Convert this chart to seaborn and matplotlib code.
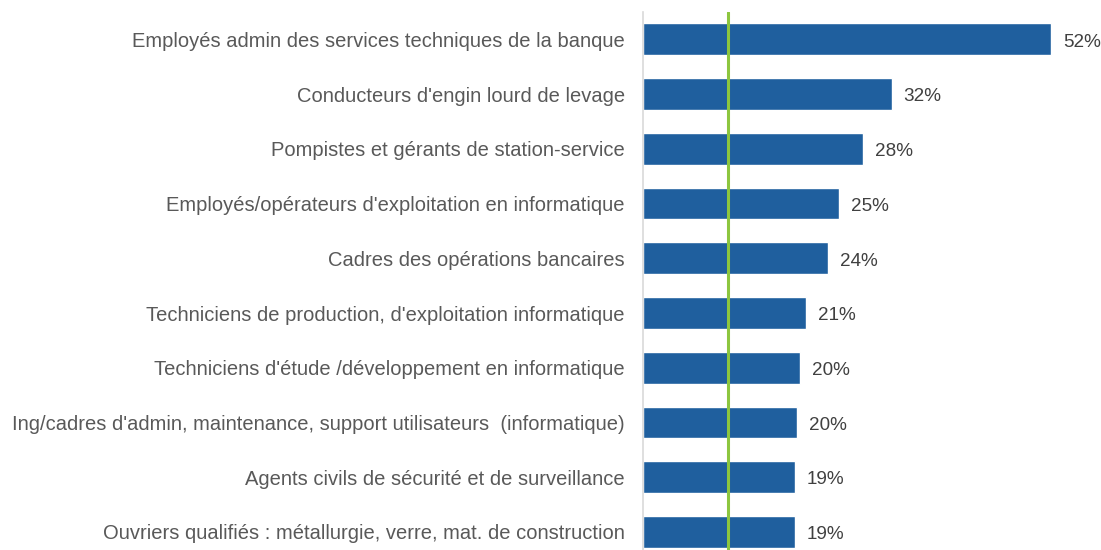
import pandas as pd
import matplotlib.pyplot as plt
import seaborn as sns

# Données
metiers = [
    "Employés admin des services techniques de la banque",
    "Conducteurs d'engin lourd de levage",
    "Pompistes et gérants de station-service",
    "Employés/opérateurs d'exploitation en informatique",
    "Cadres des opérations bancaires",
    "Techniciens de production, d'exploitation informatique",
    "Techniciens d'étude /développement en informatique",
    "Ing/cadres d'admin, maintenance, support utilisateurs  (informatique)",
    "Agents civils de sécurité et de surveillance",
    "Ouvriers qualifiés : métallurgie, verre, mat. de construction",
]
parts = [52.0, 31.7, 28.0, 25.0, 23.6, 20.8, 20.0, 19.6, 19.4, 19.4]
moyenne = 10.8

df = pd.DataFrame({"metier": metiers, "part": parts})

sns.set_theme(style="white")
plt.rcParams['font.family'] = ['Liberation Sans', 'DejaVu Sans']

fig = plt.figure(figsize=(11.01, 5.5), dpi=100)
ax = fig.add_axes([643 / 1101, 0, 1 - 643 / 1101, 1 - 12 / 550])

sns.barplot(data=df, x="part", y="metier", orient="h", color="#1F5F9E",
            width=0.58, saturation=1, ax=ax)

ax.axvline(moyenne, color="#8DC63F", lw=2.2, zorder=5)

# Valeurs
for p, v in zip(ax.patches, parts):
    ax.annotate(f"{v:.0f}%", (p.get_width(), p.get_y() + p.get_height() / 2),
                xytext=(8.6, -2), textcoords="offset points",
                ha="left", va="center", fontsize=13.6, color="#404040")

ax.set_xlim(0, 58.4)
ax.set_ylim(9.33, -0.5)
ax.set_xlabel("")
ax.set_ylabel("")
ax.set_xticks([])
ax.tick_params(axis="y", length=0, pad=13, labelsize=14.5, labelcolor="#595959")
for s in ["top", "right", "bottom"]:
    ax.spines[s].set_visible(False)
ax.spines["left"].set_color("#D9D9D9")
ax.spines["left"].set_linewidth(1.2)

fig.savefig("out.png", dpi=100, facecolor="white")
